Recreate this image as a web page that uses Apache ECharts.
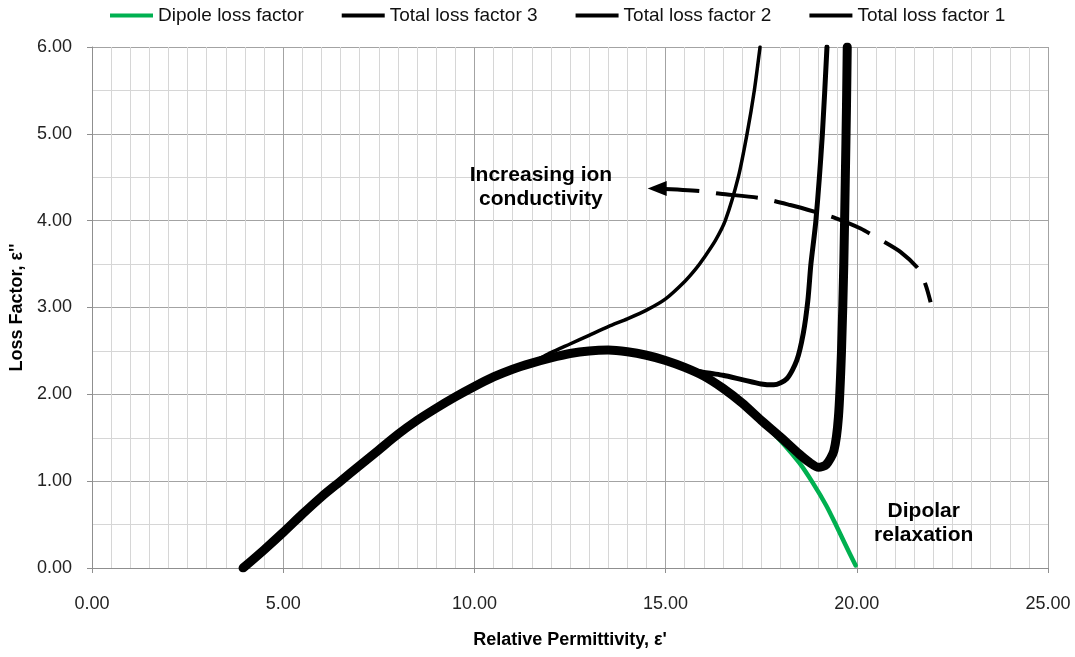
<!DOCTYPE html>
<html>
<head>
<meta charset="utf-8">
<title>Loss factor vs relative permittivity</title>
<script src="https://cdn.jsdelivr.net/npm/echarts@6/dist/echarts.min.js"></script>
<style>
  html, body { margin: 0; padding: 0; background: #fff; }
  #chart { width: 1075px; height: 657px; }
</style>
</head>
<body>
<div id="chart"></div>
<script>
// axis ranges
const xRange = [0, 25]
const yRange = [0, 6]

// [ε', ε''] points
const dipole = [
  [3.95, 0], [4.5, 0.21], [5, 0.41], [5.5, 0.62], [6, 0.82], [6.5, 1.0], [7, 1.18],
  [7.5, 1.36], [8, 1.54], [8.5, 1.70], [9, 1.84], [9.5, 1.97], [10, 2.09], [10.5, 2.20],
  [11, 2.29], [11.5, 2.36], [12, 2.42], [12.5, 2.47], [13, 2.50], [13.5, 2.51], [14, 2.49],
  [14.5, 2.45], [15, 2.39], [15.5, 2.31], [16, 2.21], [16.5, 2.07], [17, 1.90], [17.5, 1.69],
  [18, 1.47], [18.5, 1.21], [18.85, 0.98], [19.2, 0.72], [19.45, 0.50], [19.7, 0.27], [19.97, 0.03]
]

const total3 = [
  [3.95, 0], [4.5, 0.21], [5, 0.41], [5.5, 0.62], [6, 0.82], [6.5, 1.0], [7, 1.18],
  [7.5, 1.36], [8, 1.54], [8.5, 1.70], [9, 1.84], [9.5, 1.97], [10, 2.09], [10.5, 2.20],
  [11, 2.29], [11.5, 2.37], [12, 2.48], [12.5, 2.58], [13, 2.68], [13.5, 2.78], [14, 2.87],
  [14.5, 2.97], [15, 3.10], [15.5, 3.30], [15.8, 3.45], [16, 3.57], [16.3, 3.77], [16.56, 4.0],
  [16.9, 4.5], [17.13, 5.0], [17.32, 5.5], [17.47, 6.0]
]

const total2 = [
  [3.95, 0], [4.5, 0.21], [5, 0.41], [5.5, 0.62], [6, 0.82], [6.5, 1.0], [7, 1.18],
  [7.5, 1.36], [8, 1.54], [8.5, 1.70], [9, 1.84], [9.5, 1.97], [10, 2.09], [10.5, 2.20],
  [11, 2.29], [11.5, 2.36], [12, 2.42], [12.5, 2.47], [13, 2.50], [13.5, 2.51], [14, 2.49],
  [14.5, 2.45], [15, 2.39], [15.5, 2.32], [15.8, 2.27], [16.2, 2.24], [16.5, 2.22], [17, 2.17],
  [17.5, 2.12], [17.83, 2.11], [18.17, 2.18], [18.43, 2.39], [18.6, 2.70], [18.72, 3.08],
  [18.8, 3.5], [18.93, 4.0], [19.1, 5.0], [19.22, 6.0]
]

const total1 = [
  [3.95, 0], [4.5, 0.21], [5, 0.41], [5.5, 0.62], [6, 0.82], [6.5, 1.0], [7, 1.18],
  [7.5, 1.36], [8, 1.54], [8.5, 1.70], [9, 1.84], [9.5, 1.97], [10, 2.09], [10.5, 2.20],
  [11, 2.29], [11.5, 2.36], [12, 2.42], [12.5, 2.47], [13, 2.50], [13.5, 2.51], [14, 2.49],
  [14.5, 2.45], [15, 2.39], [15.5, 2.31], [16, 2.21], [16.5, 2.07], [17, 1.90], [17.5, 1.70],
  [18, 1.51], [18.5, 1.31], [18.75, 1.22], [19.0, 1.16], [19.2, 1.19], [19.4, 1.35],
  [19.52, 1.74], [19.6, 2.5], [19.66, 3.5], [19.7, 4.5], [19.73, 5.3], [19.75, 6.0]
]

// dashed arrow, from its head back to its tail
const ionArrow = [
  [14.78, 4.37], [15.91, 4.34], [16.43, 4.31], [17.48, 4.26], [18.26, 4.18], [18.92, 4.10],
  [19.44, 4.03], [20.10, 3.91], [20.62, 3.78], [21.14, 3.64], [21.62, 3.44], [21.80, 3.26],
  [21.93, 3.06]
]

// text notes, placed at [ε', ε''] centres
const notes = [
  { text: 'Increasing ion\nconductivity', at: [11.74, 4.39] },
  { text: 'Dipolar\nrelaxation', at: [21.75, 0.52] }
]

const legendNames = ['Dipole loss factor', 'Total loss factor 3', 'Total loss factor 2', 'Total loss factor 1']

const FONT = '"Liberation Sans", Arial, sans-serif'
const chart = echarts.init(document.getElementById('chart'))

const valueAxis = (range, interval, minorSplit) => ({
  type: 'value',
  min: range[0],
  max: range[1],
  interval: interval,
  axisLine: { show: true, lineStyle: { color: '#8f8f8f', width: 1 } },
  axisTick: { show: true, length: 5, lineStyle: { color: '#8f8f8f' } },
  axisLabel: {
    formatter: v => v.toFixed(2),
    fontFamily: FONT,
    fontSize: 18,
    color: '#222'
  },
  splitLine: { show: true, lineStyle: { color: '#a3a3a3', width: 1 } },
  minorTick: { show: false, splitNumber: minorSplit },
  minorSplitLine: { show: true, lineStyle: { color: '#d6d6d6', width: 1 } },
  nameLocation: 'middle',
  nameTextStyle: { fontFamily: FONT, fontSize: 18, fontWeight: 'bold', color: '#000' }
})

const curve = (name, data, color, width) => ({
  name: name,
  type: 'line',
  data: data,
  smooth: 0.25,
  symbol: 'none',
  lineStyle: { color: color, width: width, cap: 'round', join: 'round' },
  itemStyle: { color: color },
  emphasis: { disabled: true }
})

const xAxis = valueAxis(xRange, 5, 10)
xAxis.name = 'Relative Permittivity, ε\''
xAxis.nameGap = 63
xAxis.axisLabel.margin = 27

const yAxis = valueAxis(yRange, 1, 2)
yAxis.name = 'Loss Factor, ε\'\''
yAxis.nameGap = 64
yAxis.axisLabel.margin = 20

chart.setOption({
  animation: false,
  backgroundColor: '#fff',
  grid: { left: 92, right: 27, top: 47, bottom: 89, outerBoundsMode: 'none' },
  legend: {
    data: legendNames,
    left: 110,
    top: 6,
    padding: 0,
    icon: 'rect',
    itemWidth: 43,
    itemHeight: 4,
    itemGap: 38,
    textStyle: { fontFamily: FONT, fontSize: 19, color: '#111' }
  },
  xAxis: xAxis,
  yAxis: yAxis,
  series: [
    curve('Dipole loss factor', dipole, '#00b050', 4.5),
    curve('Total loss factor 3', total3, '#000', 3.5),
    curve('Total loss factor 2', total2, '#000', 5),
    curve('Total loss factor 1', total1, '#000', 9),
    {
      name: 'ion arrow',
      type: 'line',
      data: ionArrow.map((p, i) => i === 0
        ? { value: p, symbol: 'triangle', symbolSize: [15, 19], symbolRotate: 90 }
        : { value: p }),
      smooth: 0.25,
      showSymbol: true,
      symbol: 'none',
      z: 5,
      lineStyle: { color: '#000', width: 4, type: [42, 17], dashOffset: 0 },
      itemStyle: { color: '#000' },
      emphasis: { disabled: true }
    }
  ]
})

chart.setOption({
  graphic: notes.map(n => {
    const p = chart.convertToPixel({ gridIndex: 0 }, n.at)
    return {
      type: 'text',
      x: p[0],
      y: p[1],
      z: 10,
      style: {
        text: n.text,
        font: 'bold 21px ' + FONT,
        fill: '#000',
        align: 'center',
        verticalAlign: 'middle',
        lineHeight: 24
      }
    }
  })
})
</script>
</body>
</html>
